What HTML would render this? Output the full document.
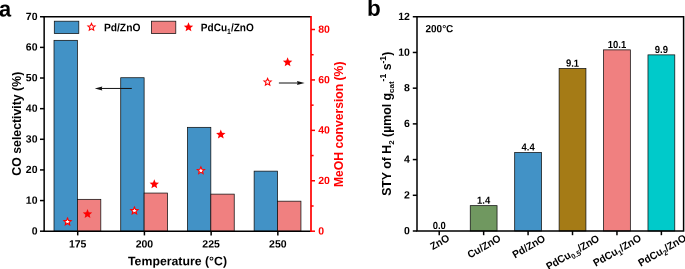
<!DOCTYPE html><html><head><meta charset="utf-8"><title>Figure</title><style>
html,body{margin:0;padding:0;background:#fff;overflow:hidden;}svg{display:block;will-change:transform;}text{font-family:"Liberation Sans",sans-serif;font-weight:bold;}
</style></head><body>
<svg width="685" height="269" viewBox="0 0 685 269">
<rect width="685" height="269" fill="#fff"/>
<rect x="54.01" y="40.34" width="23.40" height="190.86" fill="#4292C6" stroke="#101010" stroke-width="0.75"/>
<rect x="77.41" y="199.34" width="23.40" height="31.86" fill="#F08080" stroke="#101010" stroke-width="0.75"/>
<rect x="120.72" y="77.72" width="23.40" height="153.48" fill="#4292C6" stroke="#101010" stroke-width="0.75"/>
<rect x="144.12" y="193.06" width="23.40" height="38.14" fill="#F08080" stroke="#101010" stroke-width="0.75"/>
<rect x="187.43" y="127.34" width="23.40" height="103.86" fill="#4292C6" stroke="#101010" stroke-width="0.75"/>
<rect x="210.83" y="194.13" width="23.40" height="37.07" fill="#F08080" stroke="#101010" stroke-width="0.75"/>
<rect x="254.14" y="171.15" width="23.40" height="60.05" fill="#4292C6" stroke="#101010" stroke-width="0.75"/>
<rect x="277.54" y="201.18" width="23.40" height="30.02" fill="#F08080" stroke="#101010" stroke-width="0.75"/>
<rect x="54.3" y="21.2" width="24.5" height="12.4" fill="#4292C6" stroke="#101010" stroke-width="0.75"/>
<rect x="151.4" y="21.2" width="24.4" height="12.4" fill="#F08080" stroke="#101010" stroke-width="0.75"/>
<polygon points="91.50,23.35 92.50,25.72 95.07,25.94 93.12,27.63 93.70,30.13 91.50,28.80 89.30,30.13 89.88,27.63 87.93,25.94 90.50,25.72" fill="#fff" stroke="#FF0000" stroke-width="1.1"/>
<polygon points="188.50,22.25 189.79,25.42 193.21,25.67 190.59,27.88 191.41,31.20 188.50,29.40 185.59,31.20 186.41,27.88 183.79,25.67 187.21,25.42" fill="#FF0000"/>
<text transform="translate(103.90 31.30) rotate(0.05) scale(0.935 1)" font-size="11">Pd/ZnO</text>
<text transform="translate(200.80 31.30) rotate(0.05) scale(0.915 1)" font-size="11">PdCu<tspan font-size="7.6" dy="2.7">1</tspan><tspan font-size="7.6" dy="-2.7">&#8203;</tspan>/ZnO</text>
<path d="M43.40 16.75 H311.00" stroke="#000" stroke-width="1.5" fill="none"/>
<path d="M44.15 16.75 V231.95" stroke="#000" stroke-width="1.5" fill="none"/>
<path d="M43.40 231.20 H311.00" stroke="#000" stroke-width="1.5" fill="none"/>
<path d="M311.00 16.00 V231.95" stroke="#FF0000" stroke-width="1.7" fill="none"/>
<path d="M40.00 231.20 H44.15" stroke="#000" stroke-width="1.5"/>
<text transform="translate(37.50 234.40) rotate(0.05) scale(1 1)" font-size="10.5" text-anchor="end">0</text>
<path d="M40.00 200.56 H44.15" stroke="#000" stroke-width="1.5"/>
<text transform="translate(37.50 203.76) rotate(0.05) scale(1 1)" font-size="10.5" text-anchor="end">10</text>
<path d="M40.00 169.93 H44.15" stroke="#000" stroke-width="1.5"/>
<text transform="translate(37.50 173.13) rotate(0.05) scale(1 1)" font-size="10.5" text-anchor="end">20</text>
<path d="M40.00 139.29 H44.15" stroke="#000" stroke-width="1.5"/>
<text transform="translate(37.50 142.49) rotate(0.05) scale(1 1)" font-size="10.5" text-anchor="end">30</text>
<path d="M40.00 108.66 H44.15" stroke="#000" stroke-width="1.5"/>
<text transform="translate(37.50 111.86) rotate(0.05) scale(1 1)" font-size="10.5" text-anchor="end">40</text>
<path d="M40.00 78.02 H44.15" stroke="#000" stroke-width="1.5"/>
<text transform="translate(37.50 81.22) rotate(0.05) scale(1 1)" font-size="10.5" text-anchor="end">50</text>
<path d="M40.00 47.39 H44.15" stroke="#000" stroke-width="1.5"/>
<text transform="translate(37.50 50.59) rotate(0.05) scale(1 1)" font-size="10.5" text-anchor="end">60</text>
<path d="M40.00 16.75 H44.15" stroke="#000" stroke-width="1.5"/>
<text transform="translate(37.50 19.95) rotate(0.05) scale(1 1)" font-size="10.5" text-anchor="end">70</text>
<path d="M77.71 231.20 V235.40" stroke="#000" stroke-width="1.5"/>
<text transform="translate(77.71 247.45) rotate(0.05) scale(1 1)" font-size="10.5" text-anchor="middle">175</text>
<path d="M144.42 231.20 V235.40" stroke="#000" stroke-width="1.5"/>
<text transform="translate(144.42 247.45) rotate(0.05) scale(1 1)" font-size="10.5" text-anchor="middle">200</text>
<path d="M211.13 231.20 V235.40" stroke="#000" stroke-width="1.5"/>
<text transform="translate(211.13 247.45) rotate(0.05) scale(1 1)" font-size="10.5" text-anchor="middle">225</text>
<path d="M277.84 231.20 V235.40" stroke="#000" stroke-width="1.5"/>
<text transform="translate(277.84 247.45) rotate(0.05) scale(1 1)" font-size="10.5" text-anchor="middle">250</text>
<path d="M311.00 231.20 H315.00" stroke="#FF0000" stroke-width="1.5"/>
<text transform="translate(318.20 234.40) rotate(0.05) scale(1 1)" font-size="10.5" fill="#FF0000">0</text>
<path d="M311.00 205.99 H313.60" stroke="#FF0000" stroke-width="1.5"/>
<path d="M311.00 180.77 H315.00" stroke="#FF0000" stroke-width="1.5"/>
<text transform="translate(318.20 183.97) rotate(0.05) scale(1 1)" font-size="10.5" fill="#FF0000">20</text>
<path d="M311.00 155.56 H313.60" stroke="#FF0000" stroke-width="1.5"/>
<path d="M311.00 130.35 H315.00" stroke="#FF0000" stroke-width="1.5"/>
<text transform="translate(318.20 133.55) rotate(0.05) scale(1 1)" font-size="10.5" fill="#FF0000">40</text>
<path d="M311.00 105.14 H313.60" stroke="#FF0000" stroke-width="1.5"/>
<path d="M311.00 79.93 H315.00" stroke="#FF0000" stroke-width="1.5"/>
<text transform="translate(318.20 83.13) rotate(0.05) scale(1 1)" font-size="10.5" fill="#FF0000">60</text>
<path d="M311.00 54.71 H313.60" stroke="#FF0000" stroke-width="1.5"/>
<path d="M311.00 29.50 H315.00" stroke="#FF0000" stroke-width="1.5"/>
<text transform="translate(318.20 32.70) rotate(0.05) scale(1 1)" font-size="10.5" fill="#FF0000">80</text>
<polygon points="67.50,218.05 68.50,220.42 71.07,220.64 69.12,222.33 69.70,224.83 67.50,223.50 65.30,224.83 65.88,222.33 63.93,220.64 66.50,220.42" fill="#fff" stroke="#FF0000" stroke-width="1.1"/>
<polygon points="134.40,207.05 135.40,209.42 137.97,209.64 136.02,211.33 136.60,213.83 134.40,212.50 132.20,213.83 132.78,211.33 130.83,209.64 133.40,209.42" fill="#fff" stroke="#FF0000" stroke-width="1.1"/>
<polygon points="200.90,166.90 201.90,169.27 204.47,169.49 202.52,171.18 203.10,173.68 200.90,172.35 198.70,173.68 199.28,171.18 197.33,169.49 199.90,169.27" fill="#fff" stroke="#FF0000" stroke-width="1.1"/>
<polygon points="267.60,78.35 268.60,80.72 271.17,80.94 269.22,82.63 269.80,85.13 267.60,83.80 265.40,85.13 265.98,82.63 264.03,80.94 266.60,80.72" fill="#fff" stroke="#FF0000" stroke-width="1.1"/>
<polygon points="87.50,209.05 88.79,212.22 92.21,212.47 89.59,214.68 90.41,218.00 87.50,216.20 84.59,218.00 85.41,214.68 82.79,212.47 86.21,212.22" fill="#FF0000"/>
<polygon points="154.30,179.25 155.59,182.42 159.01,182.67 156.39,184.88 157.21,188.20 154.30,186.40 151.39,188.20 152.21,184.88 149.59,182.67 153.01,182.42" fill="#FF0000"/>
<polygon points="220.80,129.55 222.09,132.72 225.51,132.97 222.89,135.18 223.71,138.50 220.80,136.70 217.89,138.50 218.71,135.18 216.09,132.97 219.51,132.72" fill="#FF0000"/>
<polygon points="287.60,57.25 288.89,60.42 292.31,60.67 289.69,62.88 290.51,66.20 287.60,64.40 284.69,66.20 285.51,62.88 282.89,60.67 286.31,60.42" fill="#FF0000"/>
<path d="M131.8 88.45 H101" stroke="#111" stroke-width="1"/>
<polygon points="94.8,88.45 102.3,86.45 101.6,88.45 102.3,90.45" fill="#111"/>
<path d="M278.9 83.0 H298" stroke="#111" stroke-width="1"/>
<polygon points="304.6,83.0 297.0,81.0 297.7,83.0 297.0,85.0" fill="#111"/>
<text transform="translate(177.50 265.30) rotate(0.05) scale(1 1)" font-size="12.3" text-anchor="middle">Temperature (°C)</text>
<text transform="translate(20.70 123.70) rotate(-90) scale(1 1)" font-size="12.3" text-anchor="middle">CO selectivity (%)</text>
<text transform="translate(343.20 124.30) rotate(-90) scale(1 1)" font-size="12.15" text-anchor="middle" fill="#FF0000">MeOH conversion (%)</text>
<text transform="translate(-1.00 16.50) rotate(0.05) scale(0.97 1)" font-size="22.5">a</text>
<text transform="translate(367.00 15.70) rotate(0.05) scale(1 1)" font-size="22.5">b</text>
<text transform="translate(439.22 229.10) rotate(0.05) scale(0.92 1)" font-size="10.3" text-anchor="middle">0.0</text>
<rect x="470.25" y="205.65" width="26.80" height="25.35" fill="#709860" stroke="#101010" stroke-width="0.75"/>
<text transform="translate(483.65 203.75) rotate(0.05) scale(0.92 1)" font-size="10.3" text-anchor="middle">1.4</text>
<rect x="514.68" y="152.44" width="26.80" height="78.56" fill="#4292C6" stroke="#101010" stroke-width="0.75"/>
<text transform="translate(528.08 150.54) rotate(0.05) scale(0.92 1)" font-size="10.3" text-anchor="middle">4.4</text>
<rect x="559.12" y="68.53" width="26.80" height="162.47" fill="#A57B16" stroke="#101010" stroke-width="0.75"/>
<text transform="translate(572.52 66.63) rotate(0.05) scale(0.92 1)" font-size="10.3" text-anchor="middle">9.1</text>
<rect x="603.55" y="49.87" width="26.80" height="181.13" fill="#F08080" stroke="#101010" stroke-width="0.75"/>
<text transform="translate(616.95 47.97) rotate(0.05) scale(0.92 1)" font-size="10.3" text-anchor="middle">10.1</text>
<rect x="647.98" y="54.87" width="26.80" height="176.13" fill="#00CACA" stroke="#101010" stroke-width="0.75"/>
<text transform="translate(661.38 52.97) rotate(0.05) scale(0.92 1)" font-size="10.3" text-anchor="middle">9.9</text>
<rect x="417.00" y="16.75" width="266.60" height="214.25" fill="none" stroke="#000" stroke-width="1.5"/>
<path d="M412.80 231.00 H417.00" stroke="#000" stroke-width="1.5"/>
<text transform="translate(409.90 234.20) rotate(0.05) scale(1 1)" font-size="10.5" text-anchor="end">0</text>
<path d="M412.80 195.29 H417.00" stroke="#000" stroke-width="1.5"/>
<text transform="translate(409.90 198.49) rotate(0.05) scale(1 1)" font-size="10.5" text-anchor="end">2</text>
<path d="M412.80 159.58 H417.00" stroke="#000" stroke-width="1.5"/>
<text transform="translate(409.90 162.78) rotate(0.05) scale(1 1)" font-size="10.5" text-anchor="end">4</text>
<path d="M412.80 123.88 H417.00" stroke="#000" stroke-width="1.5"/>
<text transform="translate(409.90 127.08) rotate(0.05) scale(1 1)" font-size="10.5" text-anchor="end">6</text>
<path d="M412.80 88.17 H417.00" stroke="#000" stroke-width="1.5"/>
<text transform="translate(409.90 91.37) rotate(0.05) scale(1 1)" font-size="10.5" text-anchor="end">8</text>
<path d="M412.80 52.46 H417.00" stroke="#000" stroke-width="1.5"/>
<text transform="translate(409.90 55.66) rotate(0.05) scale(1 1)" font-size="10.5" text-anchor="end">10</text>
<path d="M412.80 16.75 H417.00" stroke="#000" stroke-width="1.5"/>
<text transform="translate(409.90 19.95) rotate(0.05) scale(1 1)" font-size="10.5" text-anchor="end">12</text>
<path d="M439.22 231.00 V235.20" stroke="#000" stroke-width="1.5"/>
<g id="xl0">
<text transform="translate(441.52 245.20) rotate(-30) scale(0.965 1)" font-size="10.5" text-anchor="middle">ZnO</text>
</g>
<path d="M483.65 231.00 V235.20" stroke="#000" stroke-width="1.5"/>
<g id="xl1">
<text transform="translate(485.85 249.40) rotate(-30) scale(0.965 1)" font-size="10.5" text-anchor="middle">Cu/ZnO</text>
</g>
<path d="M528.08 231.00 V235.20" stroke="#000" stroke-width="1.5"/>
<g id="xl2">
<text transform="translate(530.58 249.50) rotate(-30) scale(0.965 1)" font-size="10.5" text-anchor="middle">Pd/ZnO</text>
</g>
<path d="M572.52 231.00 V235.20" stroke="#000" stroke-width="1.5"/>
<g id="xl3">
<text transform="translate(574.42 255.40) rotate(-30) scale(0.965 1)" font-size="10.5" text-anchor="middle">PdCu<tspan font-size="7.5" dy="2.8">0.5</tspan><tspan font-size="7.5" dy="-2.8">&#8203;</tspan>/ZnO</text>
</g>
<path d="M616.95 231.00 V235.20" stroke="#000" stroke-width="1.5"/>
<g id="xl4">
<text transform="translate(618.85 253.50) rotate(-30) scale(0.965 1)" font-size="10.5" text-anchor="middle">PdCu<tspan font-size="7.5" dy="2.8">1</tspan><tspan font-size="7.5" dy="-2.8">&#8203;</tspan>/ZnO</text>
</g>
<path d="M661.38 231.00 V235.20" stroke="#000" stroke-width="1.5"/>
<g id="xl5">
<text transform="translate(663.88 253.50) rotate(-30) scale(0.965 1)" font-size="10.5" text-anchor="middle">PdCu<tspan font-size="7.5" dy="2.8">2</tspan><tspan font-size="7.5" dy="-2.8">&#8203;</tspan>/ZnO</text>
</g>
<text transform="translate(425.50 32.30) rotate(0.05) scale(0.95 1)" font-size="10.5">200°C</text>
<text transform="translate(391.30 123.80) rotate(-90) scale(1 1)" font-size="12.3" text-anchor="middle">STY of H<tspan font-size="8" dy="2.6">2</tspan><tspan font-size="8" dy="-2.6">&#8203;</tspan> (µmol g<tspan font-size="8" dy="2.6">cat</tspan><tspan font-size="8" dy="-2.6">&#8203;</tspan><tspan font-size="8.6" dy="-5">-1</tspan><tspan font-size="8.6" dy="5">&#8203;</tspan> s<tspan font-size="8.6" dy="-5">-1</tspan><tspan font-size="8.6" dy="5">&#8203;</tspan>)</text>
</svg></body></html>
